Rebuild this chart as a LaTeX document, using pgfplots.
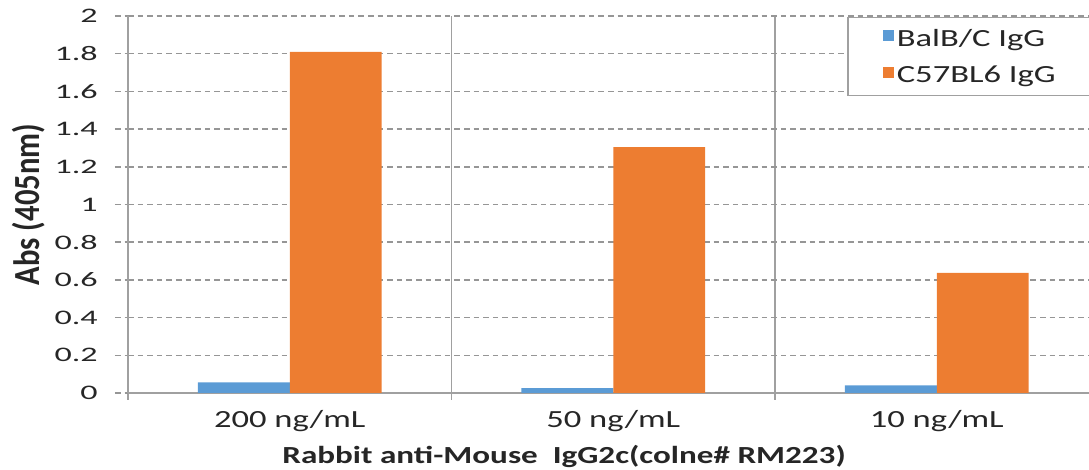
\documentclass[border=0pt]{standalone}
\usepackage{fontspec}
\setmainfont{Carlito}
\newfontfamily\ytickfont[FakeStretch=1.65]{Carlito}
\newfontfamily\wideC[FakeStretch=1.4]{Carlito}
\newfontfamily\wideB[FakeStretch=1.35]{Carlito}
\usepackage{pgfplots}
\pgfplotsset{compat=1.18}
\definecolor{xlblue}{HTML}{5B9BD5}
\definecolor{xlorange}{HTML}{ED7D31}
\definecolor{xlgrid}{HTML}{A0A0A0}
\definecolor{xldash}{HTML}{969696}
\definecolor{xltext}{HTML}{262626}

\begin{document}
\begin{tikzpicture}
\begin{axis}[
    scale only axis,
    width=727.9pt, height=282.75pt,
    xmin=0, xmax=3, ymin=0, ymax=2,
    axis x line=bottom, axis y line=left,
    axis line style={-, draw=xlgrid, line width=1.3pt},
    xtick={0.5,1.5,2.5},
    xticklabels={200 ng/mL, 50 ng/mL, 10 ng/mL},
    minor xtick={0,1,2,3},
    ytick={0,0.2,0.4,0.6,0.8,1,1.2,1.4,1.6,1.8,2},
    tick align=outside,
    major tick length=9.75pt, minor tick length=5.25pt,
    major x tick style={draw=none},
    minor x tick style={draw=xlgrid, line width=1.3pt},
    major y tick style={draw=xldash, line width=1.1pt, dash pattern=on 4.2pt off 3pt},
    ymajorgrids, xminorgrids,
    major y grid style={draw=xldash, line width=1.1pt, dash pattern=on 4.2pt off 3pt},
    minor x grid style={draw=xlgrid, line width=1.3pt, solid},
    /pgf/number format/assume math mode=true,
    yticklabel style={font=\ytickfont\fontsize{15.5}{17}\selectfont, text=xltext,
        anchor=east, inner xsep=0pt, xshift=-12.75pt,
        /pgf/number format/fixed, /pgf/number format/precision=1},
    xticklabel style={font=\wideC\fontsize{18.5}{21}\selectfont, text=xltext},
    ylabel={Abs (405nm)},
    ylabel style={font=\bfseries\fontsize{23}{26}\selectfont, text=xltext,
        at={(rel axis cs:-0.1025,0.5)}, anchor=center, yscale=1.2},
    xlabel={Rabbit anti-Mouse\ \ IgG2c(colne\# RM223)},
    xlabel style={font=\wideB\bfseries\fontsize{18.4}{21}\selectfont, text=xltext,
        at={(rel axis cs:0.4493,0)}, anchor=base, yshift=-53pt},
    legend image code/.code={\fill[#1] (0pt,-2pt) rectangle (8.25pt,6.25pt);},
    legend cell align=left,
    legend style={at={(rel axis cs:0.741,0.997)}, anchor=north west,
        draw=xlgrid, line width=1pt, inner xsep=26.5pt, inner ysep=2pt,
        font=\wideC\fontsize{18.5}{21}\selectfont, text=xltext,
        nodes={inner xsep=2pt, inner ysep=6.5pt}},
  ]
  \addplot[ybar, bar width=0.284, bar shift=-0.142, fill=xlblue, draw=none]
    coordinates {(0.5,0.057) (1.5,0.026) (2.5,0.040)};
  \addlegendentry{BalB/C IgG}
  \addplot[ybar, bar width=0.284, bar shift=0.142, fill=xlorange, draw=none]
    coordinates {(0.5,1.81) (1.5,1.305) (2.5,0.637)};
  \addlegendentry{C57BL6 IgG}
\end{axis}
\pgfresetboundingbox
\path ([xshift=-96pt,yshift=-57.75pt]current axis.south west) rectangle ++(816.75pt,352.5pt);
\end{tikzpicture}
\end{document}
